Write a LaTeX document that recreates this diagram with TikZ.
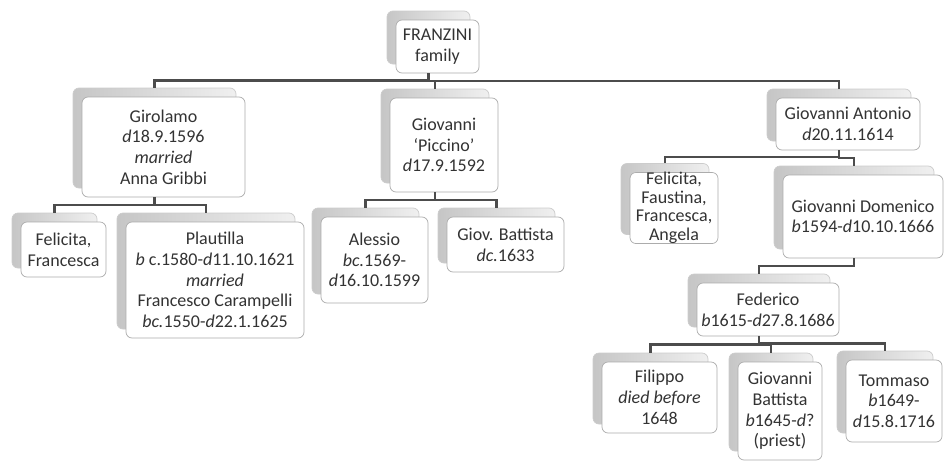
\documentclass[tikz,border=0pt]{standalone}
\usepackage{fontspec}
\setmainfont{Carlito}
\usetikzlibrary{calc,shadows}

\tikzset{
  person/.style={draw=gray!65, fill=white, rounded corners=6pt, line width=0.7pt,
    align=center, inner sep=2pt, text=black!80,
    font=\fontsize{18}{20.7}\selectfont,
    copy shadow={shadow xshift=-9pt, shadow yshift=9pt, left color=gray!45, right color=gray!12, draw=gray!40}},
  link/.style={draw=black!70, line width=2.2pt, line join=miter},
  % parent -> child: down, across at half height, down into the back box
  tree/.style={to path={
    let \p1=([xshift=-9pt]\tikztostart.south),
        \p2=([shift={(-9pt,9pt)}]\tikztotarget.north)
    in (\p1) -- (\x1,{(\y1+\y2)/2}) -- (\x2,{(\y1+\y2)/2}) -- (\p2)}}
}

\begin{document}
\begin{tikzpicture}[x=1pt,y=-1pt]
        \useasboundingbox (0,0) rectangle (945,461);

        % Верхний уровень
        \node[person, minimum width=83pt, minimum height=53pt] (fam) at (437.5,46.5) {FRANZINI\\family};

        % Сыновья
        \node[person, minimum width=163pt, minimum height=100pt] (gir) at (163.5,147) {Girolamo\\\textit{d}18.9.1596\\\textit{married}\\Anna Gribbi};
        \node[person, minimum width=108pt, minimum height=94pt] (pic) at (444,145) {Giovanni\\‘Piccino’\\\textit{d}17.9.1592};
        \node[person, minimum width=144pt, minimum height=52pt] (ant) at (848,124) {Giovanni Antonio\\\textit{d}20.11.1614};

        % Дети Girolamo
        \node[person, minimum width=85pt, minimum height=55pt] (felA) at (63.5,249.5) {Felicita,\\Francesca};
        \node[person, minimum width=178pt, minimum height=116pt] (pla) at (215,280) {Plautilla\\\textit{b} c.1580-\textit{d}11.10.1621\\\textit{married}\\Francesco Carampelli\\\textit{bc.}1550-\textit{d}22.1.1625};

        % Дети Giovanni 'Piccino'
        \node[person, minimum width=107pt, minimum height=86pt] (ale) at (374.5,260) {Alessio\\\textit{bc.}1569-\\\textit{d}16.10.1599};
        \node[person, minimum width=117pt, minimum height=55pt] (gbA) at (505.5,244.5) {Giov. Battista\\\textit{dc.}1633};

        % Дети Giovanni Antonio
        \node[person, minimum width=88pt, minimum height=70pt, font=\fontsize{18}{18.5}\selectfont, inner sep=0pt] (felB) at (674,208) {Felicita,\\Faustina,\\Francesca,\\Angela};
        \node[person, minimum width=160pt, minimum height=83pt] (dom) at (863,216.5) {Giovanni Domenico\\\textit{b}1594-\textit{d}10.10.1666};

        % Federico и его дети
        \node[person, minimum width=142pt, minimum height=53pt] (fed) at (768,309.5) {Federico\\\textit{b}1615-\textit{d}27.8.1686};
        \node[person, minimum width=115pt, minimum height=71pt] (fil) at (659.5,397.5) {Filippo\\\textit{died before}\\1648};
        \node[person, minimum width=84pt, minimum height=98pt] (gbB) at (780,411) {Giovanni\\Battista\\\textit{b}1645-\textit{d}?\\(priest)};
        \node[person, minimum width=96pt, minimum height=82pt] (tom) at (894,401) {Tommaso\\\textit{b}1649-\\\textit{d}15.8.1716};

        % Линии связей
        \draw[link] (fam) to[tree] (gir) (fam) to[tree] (pic) (fam) to[tree] (ant);
        \draw[link] (gir) to[tree] (felA) (gir) to[tree] (pla);
        \draw[link] (pic) to[tree] (ale) (pic) to[tree] (gbA);
        \draw[link] (ant) to[tree] (felB) (ant) to[tree] (dom);
        \draw[link] (dom) to[tree] (fed);
        \draw[link] (fed) to[tree] (fil) (fed) to[tree] (gbB) (fed) to[tree] (tom);

    \end{tikzpicture}
\end{document}
